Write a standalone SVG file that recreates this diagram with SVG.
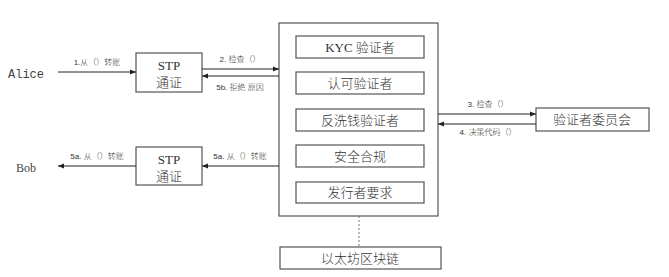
<svg xmlns="http://www.w3.org/2000/svg" width="669" height="277" viewBox="0 0 669 277">
<style>
.box{fill:#fff;stroke:#555;stroke-width:1.2}
.t{font-family:"Liberation Serif","Noto Sans CJK SC",serif;font-size:13px;font-weight:300;fill:#333;text-anchor:middle}
.lbl{font-family:"Liberation Sans","Noto Sans CJK SC",sans-serif;font-size:8px;font-weight:300;fill:#333;text-anchor:middle}
.ln{stroke:#222;stroke-width:1;fill:none}
</style>
<defs>
<marker id="ah" viewBox="0 0 10 10" refX="10" refY="5" markerWidth="6" markerHeight="6" orient="auto"><path d="M0,1 L10,5 L0,9 z" fill="#222"/></marker>
</defs>
<rect width="669" height="277" fill="#fff"/>
<g id="alice"><text x="8" y="78" font-family="Liberation Mono,monospace" font-size="12" fill="#444">Alice</text></g>
<g id="bob"><text x="16" y="172" font-family="Liberation Serif,serif" font-size="12" fill="#444">Bob</text></g>
<g id="stp1"><rect class="box" x="136" y="53" width="66" height="39"/><text class="t" x="169" y="70">STP</text><text class="t" x="169" y="87">通证</text></g>
<g id="stp2"><rect class="box" x="136" y="147" width="66" height="38"/><text class="t" x="169" y="164">STP</text><text class="t" x="169" y="181">通证</text></g>
<g id="validators"><rect class="box" x="279" y="23" width="159" height="193"/>
<g id="kyc"><rect class="box" x="296" y="36" width="128" height="22"/><text class="t" x="360" y="52">KYC 验证者</text></g>
<g id="accredit"><rect class="box" x="296" y="72" width="128" height="22"/><text class="t" x="360" y="88">认可验证者</text></g>
<g id="aml"><rect class="box" x="296" y="109" width="128" height="22"/><text class="t" x="360" y="125">反洗钱验证者</text></g>
<g id="security"><rect class="box" x="296" y="145" width="128" height="22"/><text class="t" x="360" y="161">安全合规</text></g>
<g id="issuer"><rect class="box" x="296" y="182" width="128" height="21"/><text class="t" x="360" y="197">发行者要求</text></g>
</g>
<g id="committee"><rect class="box" x="536" y="108" width="113" height="23"/><text class="t" x="592" y="124">验证者委员会</text></g>
<g id="ethereum"><rect class="box" x="280" y="247" width="161" height="22"/><text class="t" x="360" y="263">以太坊区块链</text></g>
<g id="connectors">
<line class="ln" x1="58" y1="72" x2="136" y2="72" marker-end="url(#ah)"/>
<text class="lbl" x="97" y="65">1.从（）转账</text>
<line class="ln" x1="202" y1="69" x2="279" y2="69" marker-end="url(#ah)"/>
<text class="lbl" x="240" y="62">2. 检查（）</text>
<line class="ln" x1="279" y1="76" x2="202" y2="76" marker-end="url(#ah)"/>
<text class="lbl" x="240" y="90">5b. 拒绝 原因</text>
<line class="ln" x1="438" y1="114" x2="536" y2="114" marker-end="url(#ah)"/>
<text class="lbl" x="488" y="107">3. 检查（）</text>
<line class="ln" x1="536" y1="124" x2="438" y2="124" marker-end="url(#ah)"/>
<text class="lbl" x="488" y="135">4. 决策代码（）</text>
<line class="ln" x1="279" y1="166" x2="202" y2="166" marker-end="url(#ah)"/>
<text class="lbl" x="240" y="159">5a. 从（）转账</text>
<line class="ln" x1="136" y1="166" x2="58" y2="166" marker-end="url(#ah)"/>
<text class="lbl" x="97" y="159">5a. 从（）转账</text>
<line x1="359" y1="216" x2="359" y2="247" stroke="#777" stroke-width="1" stroke-dasharray="2,2"/>
</g>
</svg>
